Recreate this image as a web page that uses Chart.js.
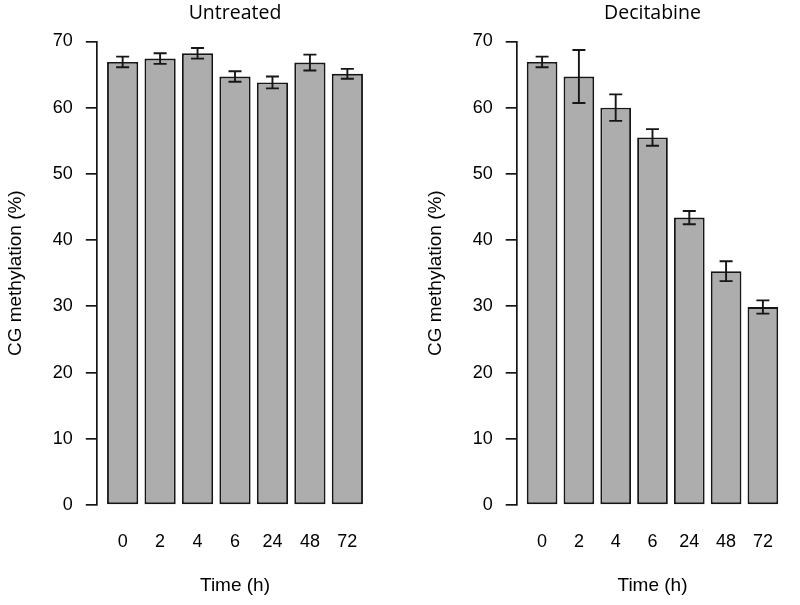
<!DOCTYPE html>
<html><head><meta charset="utf-8">
<script src="https://cdn.jsdelivr.net/npm/chart.js@4.4.0/dist/chart.umd.min.js"></script>
<style>
html,body{margin:0;padding:0;background:#fff;}
#wrap{position:relative;width:800px;height:605px;}
.panel{position:absolute;top:0;width:400px;height:605px;}
</style></head><body>
<div id="wrap">
<div class="panel" style="left:0"><canvas id="c1"></canvas></div>
<div class="panel" style="left:400px"><canvas id="c2"></canvas></div>
</div>
<script>
const timeLabels = ['0', '2', '4', '6', '24', '48', '72'];
const untreatedMeans = [66.9, 67.4, 68.2, 64.7, 63.8, 66.8, 65.1];
const untreatedErrors = [0.8, 0.8, 0.8, 0.8, 0.9, 1.2, 0.75];
const decitabineMeans = [66.9, 64.7, 60.0, 55.5, 43.4, 35.3, 29.9];
const decitabineErrors = [0.8, 4.0, 2.0, 1.25, 1.0, 1.5, 1.0];
const yTicks = [0, 10, 20, 30, 40, 50, 60, 70];

const INK = '#161616';
const TEXT = '#000';
const tickFont = {family: 'Liberation Sans, Arial, sans-serif', size: 18};
const titleFont = {family: 'Liberation Sans, Arial, sans-serif', size: 19};

const errorBars = {
  id: 'errorBars',
  afterDatasetsDraw(chart, args, opts) {
    const ctx = chart.ctx;
    const meta = chart.getDatasetMeta(0);
    const ys = chart.scales.y;
    const ds = chart.data.datasets[0].data;
    ctx.save();
    ctx.strokeStyle = INK;
    ctx.lineWidth = 1.9;
    meta.data.forEach((bar, i) => {
      const v = ds[i].y, e = opts.errors[i];
      const top = ys.getPixelForValue(v + e);
      const bot = ys.getPixelForValue(v - e);
      const x = bar.x, half = 6.5;
      ctx.beginPath();
      ctx.moveTo(x, top); ctx.lineTo(x, bot);
      ctx.moveTo(x - half, top); ctx.lineTo(x + half, top);
      ctx.moveTo(x - half, bot); ctx.lineTo(x + half, bot);
      ctx.stroke();
    });
    ctx.restore();
  }
};

function makeChart(id, title, means, errs, yAxisWidth, rightPad, yTitlePad) {
  return new Chart(document.getElementById(id), {
    type: 'bar',
    data: {
      datasets: [{
        data: means.map((v, i) => ({x: i, y: v})),
        backgroundColor: '#adadad',
        borderColor: INK,
        borderWidth: 1.9,
        borderSkipped: false,
        barPercentage: 1 / 1.2,
        categoryPercentage: 1
      }]
    },
    plugins: [errorBars],
    options: {
      responsive: true,
      maintainAspectRatio: false,
      animation: false,
      layout: {padding: {top: 2, right: rightPad, bottom: 0, left: 0}},
      plugins: {
        legend: {display: false},
        tooltip: {enabled: false},
        title: {
          display: true, text: title, fullSize: false, color: TEXT,
          font: {family: 'Open Sans, sans-serif', size: 19.5, weight: 'normal'},
          padding: {top: 0, bottom: 16}
        },
        errorBars: {errors: errs}
      },
      scales: {
        x: {
          type: 'linear', min: -0.69, max: 6.69, offset: false,
          afterBuildTicks: s => { s.ticks = timeLabels.map((_, i) => ({value: i})); },
          ticks: {callback: (v, i) => timeLabels[i], font: tickFont, color: TEXT, padding: 26, maxRotation: 0, autoSkip: false},
          grid: {display: false, drawTicks: false, offset: false},
          border: {display: false},
          title: {display: true, text: 'Time (h)', font: titleFont, color: TEXT, padding: {top: 0, bottom: 8}},
          afterFit: s => { s.height = 100; }
        },
        y: {
          min: 0, max: 70,
          afterBuildTicks: s => { s.ticks = yTicks.map(v => ({value: v})); },
          ticks: {font: tickFont, color: TEXT, padding: 13},
          grid: {drawOnChartArea: false, drawTicks: true, tickLength: 11, color: INK, lineWidth: 1.7},
          border: {display: true, color: INK, width: 1.7},
          title: {display: true, text: 'CG methylation (%)', font: titleFont, color: TEXT, padding: {top: yTitlePad, bottom: 0}},
          afterFit: s => { s.width = yAxisWidth; }
        }
      }
    }
  });
}

makeChart('c1', 'Untreated', untreatedMeans, untreatedErrors, 96.8, 26.8, 4.8);
makeChart('c2', 'Decitabine', decitabineMeans, decitabineErrors, 116.7, 6.7, 24.8);
</script>
</body></html>
